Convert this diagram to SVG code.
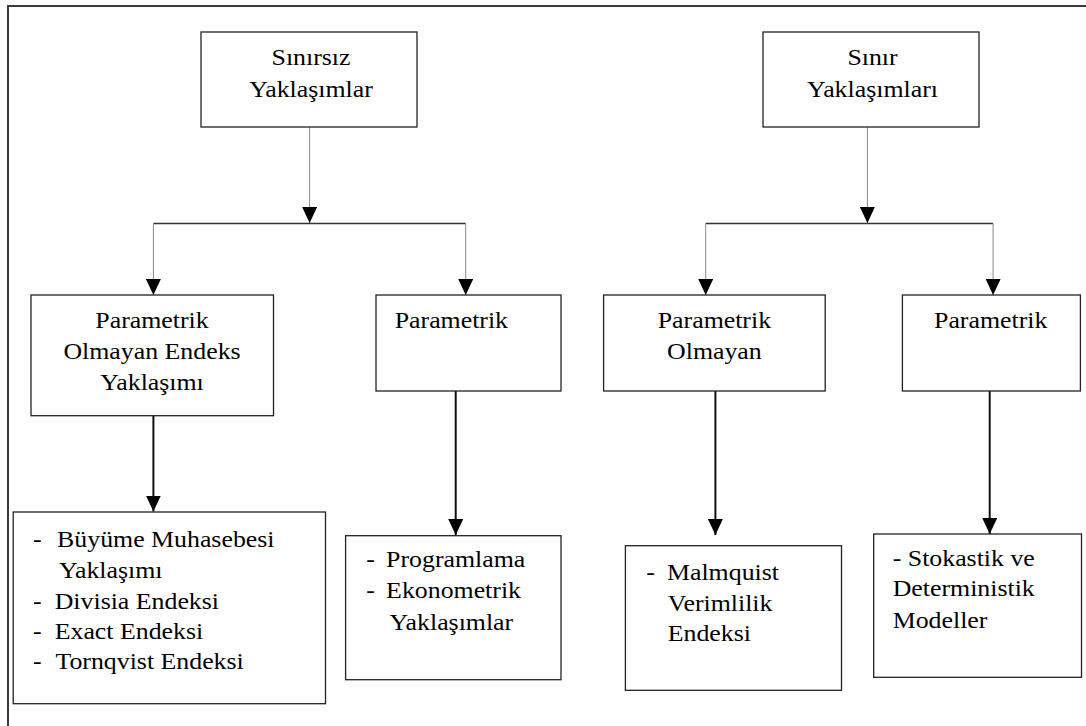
<svg xmlns="http://www.w3.org/2000/svg" width="1086" height="726" viewBox="0 0 1086 726">
  <style>
    .box { fill: #ffffff; stroke: #222222; stroke-width: 1.3; }
    .frame { fill: none; stroke: #3a3a3a; stroke-width: 2; }
    .mid { text-anchor: middle; }
    .thin { stroke: #8a8a8a; stroke-width: 1; fill: none; }
    .bar { stroke: #333333; stroke-width: 1.3; fill: none; }
    .bold { stroke: #111111; stroke-width: 2; fill: none; }
  </style>
  <defs>
    <marker id="tri" markerUnits="userSpaceOnUse" markerWidth="17" markerHeight="15" refX="16" refY="7.5" orient="auto">
      <path d="M0,0 L16,7.5 L0,15 Z" fill="#000000"/>
    </marker>
  </defs>

  <rect width="1086" height="726" fill="#ffffff"/>
  <!-- surrounding frame, open to the right and bottom -->
  <path class="frame" d="M1090,6 L8,6 L8,730"/>

  <g id="connectors">
    <!-- left tree -->
    <line class="thin" x1="309.6" y1="127" x2="309.6" y2="223" marker-end="url(#tri)"/>
    <line class="bar" x1="153.4" y1="223.5" x2="465.7" y2="223.5"/>
    <line class="thin" x1="153.4" y1="223.5" x2="153.4" y2="295" marker-end="url(#tri)"/>
    <line class="thin" x1="465.7" y1="223.5" x2="465.7" y2="295" marker-end="url(#tri)"/>
    <!-- right tree -->
    <line class="thin" x1="867.4" y1="127" x2="867.4" y2="223" marker-end="url(#tri)"/>
    <line class="bar" x1="705.7" y1="223.5" x2="993.1" y2="223.5"/>
    <line class="thin" x1="705.7" y1="223.5" x2="705.7" y2="295" marker-end="url(#tri)"/>
    <line class="thin" x1="993.1" y1="223.5" x2="993.1" y2="295" marker-end="url(#tri)"/>
    <!-- down to the method lists -->
    <line class="bold" x1="153.4" y1="416" x2="153.4" y2="511.5" marker-end="url(#tri)"/>
    <line class="bold" x1="455.7" y1="391" x2="455.7" y2="535" marker-end="url(#tri)"/>
    <line class="bold" x1="715.4" y1="391" x2="715.4" y2="535" marker-end="url(#tri)"/>
    <line class="bold" x1="989.7" y1="391" x2="989.7" y2="534" marker-end="url(#tri)"/>
  </g>

  <g font-family="Liberation Serif, Times New Roman, DejaVu Serif, serif" font-size="23.5" fill="#000000">
  <g id="sinirsiz">
    <rect class="box" x="201" y="32" width="216" height="95"/>
    <text class="mid" transform="matrix(1.1 0 0 1 311 65)">Sınırsız</text>
    <text class="mid" transform="matrix(1.1 0 0 1 311 97)">Yaklaşımlar</text>
  </g>

  <g id="sinir">
    <rect class="box" x="763" y="32" width="216" height="95"/>
    <text class="mid" transform="matrix(1.1 0 0 1 872.5 65)">Sınır</text>
    <text class="mid" transform="matrix(1.1 0 0 1 872.5 97)">Yaklaşımları</text>
  </g>

  <g id="np-endeks">
    <rect class="box" x="31" y="295" width="242.5" height="120.7"/>
    <text class="mid" transform="matrix(1.1 0 0 1 152 328.3)">Parametrik</text>
    <text class="mid" transform="matrix(1.1 0 0 1 152 359)">Olmayan Endeks</text>
    <text class="mid" transform="matrix(1.1 0 0 1 152 389.7)">Yaklaşımı</text>
  </g>

  <g id="p-sinirsiz">
    <rect class="box" x="376" y="295" width="185" height="96"/>
    <text transform="matrix(1.1 0 0 1 394.7 328.3)">Parametrik</text>
  </g>

  <g id="np-sinir">
    <rect class="box" x="603.6" y="295" width="221.6" height="96"/>
    <text class="mid" transform="matrix(1.1 0 0 1 714.4 328.3)">Parametrik</text>
    <text class="mid" transform="matrix(1.1 0 0 1 714.4 359)">Olmayan</text>
  </g>

  <g id="p-sinir">
    <rect class="box" x="902.4" y="295" width="178" height="96"/>
    <text class="mid" transform="matrix(1.1 0 0 1 990.7 328.3)">Parametrik</text>
  </g>

  <g id="endeks-list">
    <rect class="box" x="13.2" y="512" width="312.3" height="191.7"/>
    <text transform="matrix(1.1 0 0 1 32.9 547.3)">-</text>
    <text transform="matrix(1.1 0 0 1 57.1 547.3)">Büyüme Muhasebesi</text>
    <text transform="matrix(1.1 0 0 1 58.9 578)">Yaklaşımı</text>
    <text transform="matrix(1.1 0 0 1 32.9 608.7)">-</text>
    <text transform="matrix(1.1 0 0 1 54.7 608.7)">Divisia Endeksi</text>
    <text transform="matrix(1.1 0 0 1 32.9 639)">-</text>
    <text transform="matrix(1.1 0 0 1 54.7 639)">Exact Endeksi</text>
    <text transform="matrix(1.1 0 0 1 32.9 669)">-</text>
    <text transform="matrix(1.1 0 0 1 55.4 669)">Tornqvist Endeksi</text>
  </g>

  <g id="parametrik-list">
    <rect class="box" x="345.6" y="535.7" width="215.4" height="144"/>
    <text transform="matrix(1.1 0 0 1 366.3 567)">-</text>
    <text transform="matrix(1.1 0 0 1 386.1 567)">Programlama</text>
    <text transform="matrix(1.1 0 0 1 366.3 598)">-</text>
    <text transform="matrix(1.1 0 0 1 386.1 598)">Ekonometrik</text>
    <text transform="matrix(1.1 0 0 1 389.5 629.7)">Yaklaşımlar</text>
  </g>

  <g id="malmquist">
    <rect class="box" x="625.4" y="545.7" width="216.1" height="144.6"/>
    <text transform="matrix(1.1 0 0 1 646.2 579.7)">-</text>
    <text transform="matrix(1.1 0 0 1 667 579.7)">Malmquist</text>
    <text transform="matrix(1.1 0 0 1 667.7 610.7)">Verimlilik</text>
    <text transform="matrix(1.1 0 0 1 667.7 641.3)">Endeksi</text>
  </g>

  <g id="stokastik">
    <rect class="box" x="873.7" y="534" width="207.8" height="143.3"/>
    <text transform="matrix(1.1 0 0 1 892.7 566.3)">- Stokastik ve</text>
    <text transform="matrix(1.1 0 0 1 892.7 596.3)">Deterministik</text>
    <text transform="matrix(1.1 0 0 1 892.7 628)">Modeller</text>
  </g>
  </g>
</svg>
